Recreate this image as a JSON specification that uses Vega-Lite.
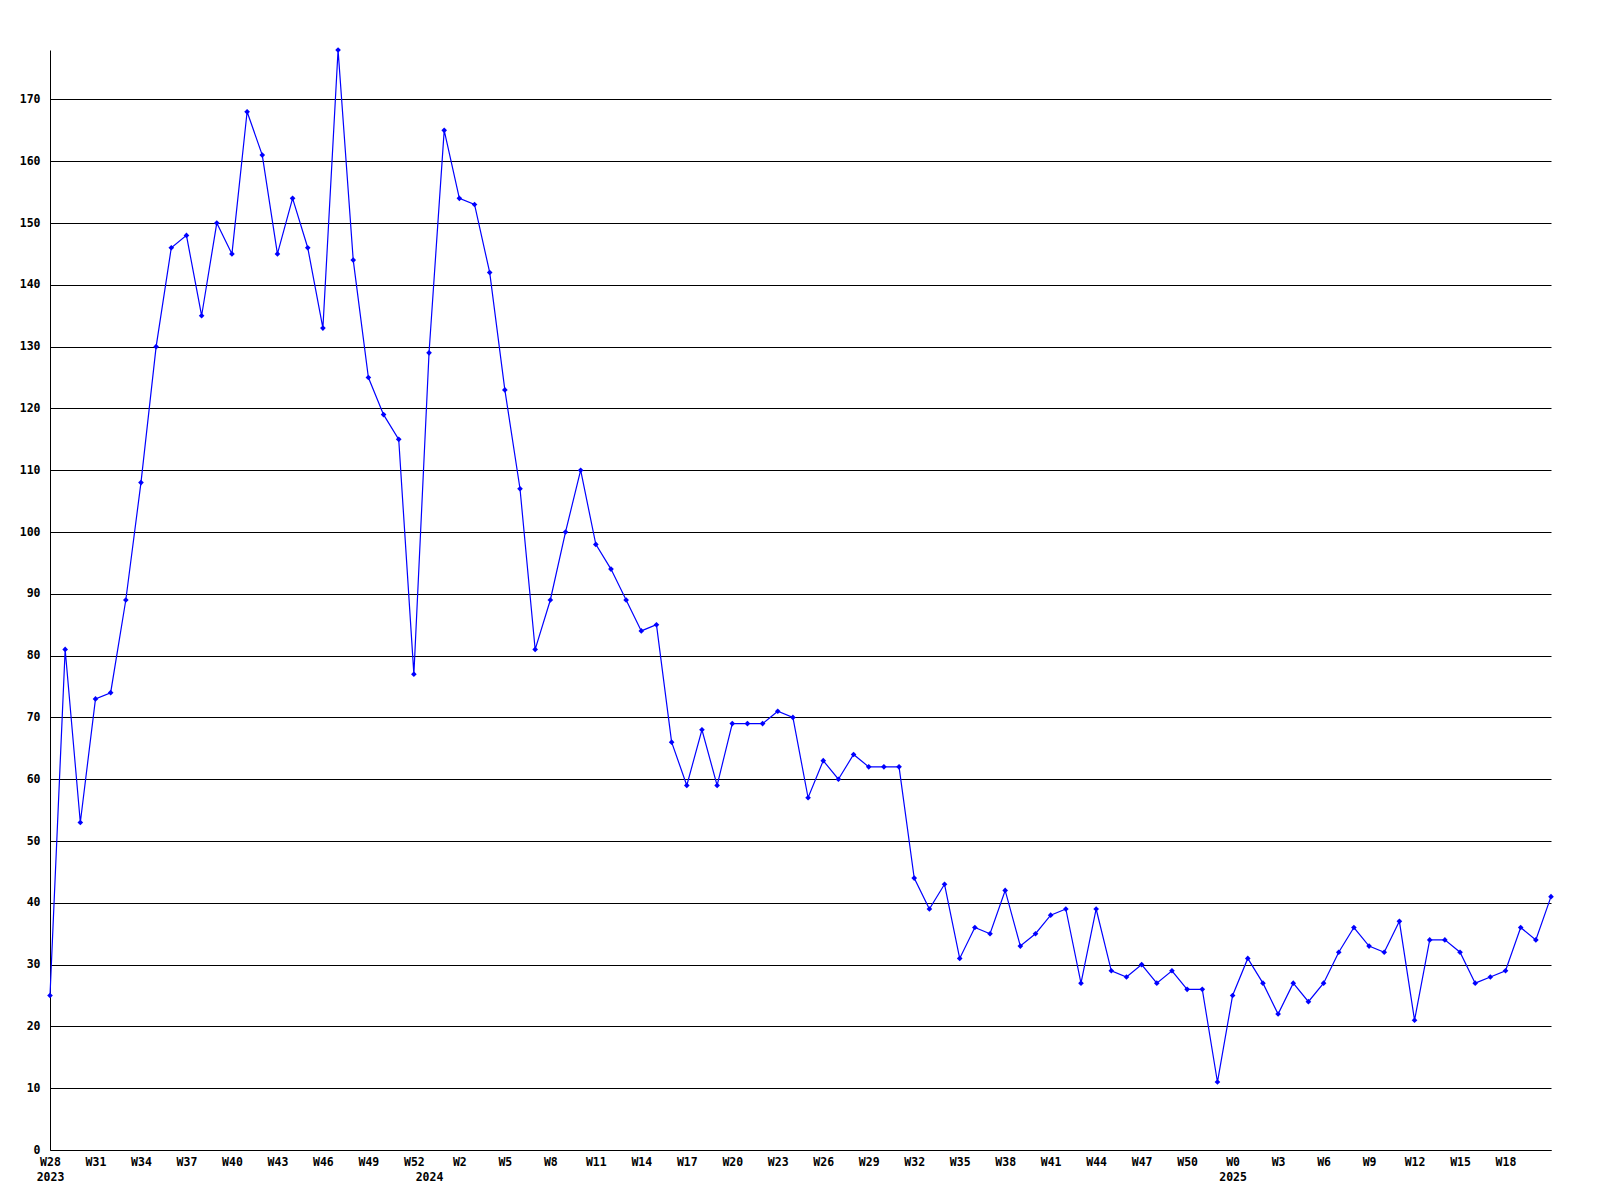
{
  "$schema": "https://vega.github.io/schema/vega-lite/v6.json",
  "width": 1501,
  "height": 1100,
  "autosize": {"type": "none"},
  "padding": {"left": 50, "top": 50, "right": 49, "bottom": 50},
  "background": "white",
  "config": {
    "view": {"stroke": null},
    "axis": {
      "labelFont": "DejaVu Sans Mono",
      "labelFontWeight": "bold",
      "labelFontSize": 11.5,
      "labelColor": "black",
      "domainColor": "black",
      "domainWidth": 1,
      "ticks": false
    }
  },
  "data": {
    "values": [
      {"week": "2023-W28", "count": 25}, {"week": "2023-W29", "count": 81}, {"week": "2023-W30", "count": 53},
      {"week": "2023-W31", "count": 73}, {"week": "2023-W32", "count": 74}, {"week": "2023-W33", "count": 89},
      {"week": "2023-W34", "count": 108}, {"week": "2023-W35", "count": 130}, {"week": "2023-W36", "count": 146},
      {"week": "2023-W37", "count": 148}, {"week": "2023-W38", "count": 135}, {"week": "2023-W39", "count": 150},
      {"week": "2023-W40", "count": 145}, {"week": "2023-W41", "count": 168}, {"week": "2023-W42", "count": 161},
      {"week": "2023-W43", "count": 145}, {"week": "2023-W44", "count": 154}, {"week": "2023-W45", "count": 146},
      {"week": "2023-W46", "count": 133}, {"week": "2023-W47", "count": 178}, {"week": "2023-W48", "count": 144},
      {"week": "2023-W49", "count": 125}, {"week": "2023-W50", "count": 119}, {"week": "2023-W51", "count": 115},
      {"week": "2023-W52", "count": 77},
      {"week": "2024-W0", "count": 129}, {"week": "2024-W1", "count": 165}, {"week": "2024-W2", "count": 154},
      {"week": "2024-W3", "count": 153}, {"week": "2024-W4", "count": 142}, {"week": "2024-W5", "count": 123},
      {"week": "2024-W6", "count": 107}, {"week": "2024-W7", "count": 81}, {"week": "2024-W8", "count": 89},
      {"week": "2024-W9", "count": 100}, {"week": "2024-W10", "count": 110}, {"week": "2024-W11", "count": 98},
      {"week": "2024-W12", "count": 94}, {"week": "2024-W13", "count": 89}, {"week": "2024-W14", "count": 84},
      {"week": "2024-W15", "count": 85}, {"week": "2024-W16", "count": 66}, {"week": "2024-W17", "count": 59},
      {"week": "2024-W18", "count": 68}, {"week": "2024-W19", "count": 59}, {"week": "2024-W20", "count": 69},
      {"week": "2024-W21", "count": 69}, {"week": "2024-W22", "count": 69}, {"week": "2024-W23", "count": 71},
      {"week": "2024-W24", "count": 70}, {"week": "2024-W25", "count": 57}, {"week": "2024-W26", "count": 63},
      {"week": "2024-W27", "count": 60}, {"week": "2024-W28", "count": 64}, {"week": "2024-W29", "count": 62},
      {"week": "2024-W30", "count": 62}, {"week": "2024-W31", "count": 62}, {"week": "2024-W32", "count": 44},
      {"week": "2024-W33", "count": 39}, {"week": "2024-W34", "count": 43}, {"week": "2024-W35", "count": 31},
      {"week": "2024-W36", "count": 36}, {"week": "2024-W37", "count": 35}, {"week": "2024-W38", "count": 42},
      {"week": "2024-W39", "count": 33}, {"week": "2024-W40", "count": 35}, {"week": "2024-W41", "count": 38},
      {"week": "2024-W42", "count": 39}, {"week": "2024-W43", "count": 27}, {"week": "2024-W44", "count": 39},
      {"week": "2024-W45", "count": 29}, {"week": "2024-W46", "count": 28}, {"week": "2024-W47", "count": 30},
      {"week": "2024-W48", "count": 27}, {"week": "2024-W49", "count": 29}, {"week": "2024-W50", "count": 26},
      {"week": "2024-W51", "count": 26}, {"week": "2024-W52", "count": 11},
      {"week": "2025-W0", "count": 25}, {"week": "2025-W1", "count": 31}, {"week": "2025-W2", "count": 27},
      {"week": "2025-W3", "count": 22}, {"week": "2025-W4", "count": 27}, {"week": "2025-W5", "count": 24},
      {"week": "2025-W6", "count": 27}, {"week": "2025-W7", "count": 32}, {"week": "2025-W8", "count": 36},
      {"week": "2025-W9", "count": 33}, {"week": "2025-W10", "count": 32}, {"week": "2025-W11", "count": 37},
      {"week": "2025-W12", "count": 21}, {"week": "2025-W13", "count": 34}, {"week": "2025-W14", "count": 34},
      {"week": "2025-W15", "count": 32}, {"week": "2025-W16", "count": 27}, {"week": "2025-W17", "count": 28},
      {"week": "2025-W18", "count": 29}, {"week": "2025-W19", "count": 36}, {"week": "2025-W20", "count": 34},
      {"week": "2025-W21", "count": 41}
    ]
  },
  "encoding": {
    "x": {
      "field": "week",
      "type": "ordinal",
      "sort": null,
      "scale": {"type": "point", "padding": 0},
      "axis": {
        "title": null,
        "labelAngle": 0,
        "labelPadding": 6,
        "labelBaseline": "top",
        "labelLineHeight": 15,
        "labelOverlap": false,
        "grid": false,
        "values": ["2023-W28", "2023-W31", "2023-W34", "2023-W37", "2023-W40", "2023-W43", "2023-W46", "2023-W49", "2023-W52", "2024-W0", "2024-W2", "2024-W5", "2024-W8", "2024-W11", "2024-W14", "2024-W17", "2024-W20", "2024-W23", "2024-W26", "2024-W29", "2024-W32", "2024-W35", "2024-W38", "2024-W41", "2024-W44", "2024-W47", "2024-W50", "2025-W0", "2025-W3", "2025-W6", "2025-W9", "2025-W12", "2025-W15", "2025-W18"],
        "labelExpr": "datum.value == '2024-W0' ? ['', '2024'] : (datum.value == '2023-W28' || datum.value == '2025-W0') ? [split(datum.value, '-')[1], split(datum.value, '-')[0]] : split(datum.value, '-')[1]"
      }
    },
    "y": {
      "field": "count",
      "type": "quantitative",
      "scale": {"domain": [0, 178], "nice": false, "zero": true},
      "axis": {
        "title": null,
        "values": [0, 10, 20, 30, 40, 50, 60, 70, 80, 90, 100, 110, 120, 130, 140, 150, 160, 170],
        "grid": true,
        "gridColor": "black",
        "gridOpacity": 1,
        "gridWidth": 1,
        "labelPadding": 10
      }
    }
  },
  "layer": [
    {"mark": {"type": "line", "color": "#0000ff", "strokeWidth": 1.2}},
    {"mark": {"type": "point", "shape": "diamond", "filled": true, "size": 32, "color": "#0000ff", "opacity": 1}}
  ]
}
